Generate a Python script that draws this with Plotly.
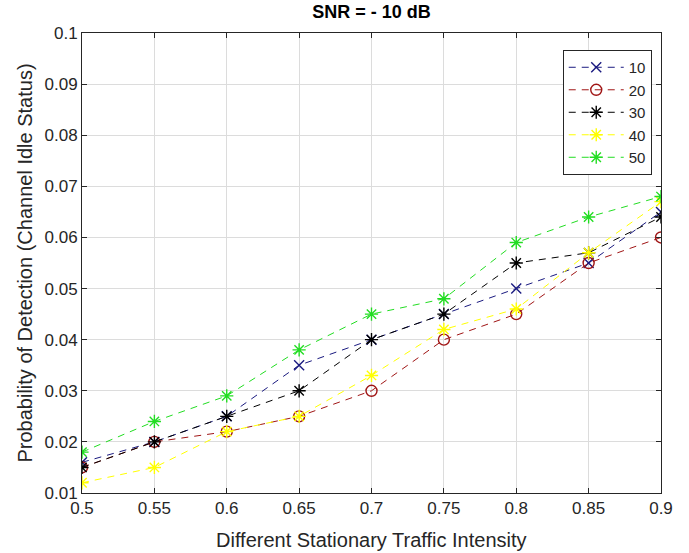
import plotly.graph_objects as go

# Stationary traffic intensity (x axis)
traffic = [0.5, 0.55, 0.6, 0.65, 0.7, 0.75, 0.8, 0.85, 0.9]

# Detection probability for each case
pd_10 = [0.016, 0.020, 0.025, 0.035, 0.040, 0.045, 0.050, 0.055, 0.065]
pd_20 = [0.015, 0.020, 0.022, 0.025, 0.030, 0.040, 0.045, 0.055, 0.060]
pd_30 = [0.015, 0.020, 0.025, 0.030, 0.040, 0.045, 0.055, 0.057, 0.064]
pd_40 = [0.012, 0.015, 0.022, 0.025, 0.033, 0.042, 0.046, 0.057, 0.067]
pd_50 = [0.018, 0.024, 0.029, 0.038, 0.045, 0.048, 0.059, 0.064, 0.068]

series_names = ["10", "20", "30", "40", "50"]

x_ticks = [0.5, 0.55, 0.6, 0.65, 0.7, 0.75, 0.8, 0.85, 0.9]
x_tick_text = ["0.5", "0.55", "0.6", "0.65", "0.7", "0.75", "0.8", "0.85", "0.9"]
y_ticks = [0.01, 0.02, 0.03, 0.04, 0.05, 0.06, 0.07, 0.08, 0.09, 0.1]
y_tick_text = ["0.01", "0.02", "0.03", "0.04", "0.05", "0.06", "0.07", "0.08", "0.09", "0.1"]

FONT = "Liberation Sans, Arial, sans-serif"

styles = [
    ("#1a1a80", "x-thin-open", 10),
    ("#a01515", "circle-open", 11),
    ("#000000", "asterisk-open", 11),
    ("#ffff00", "asterisk-open", 11),
    ("#22dd22", "asterisk-open", 11),
]

fig = go.Figure()
for name, values, (color, symbol, size) in zip(
        series_names, [pd_10, pd_20, pd_30, pd_40, pd_50], styles):
    fig.add_trace(go.Scatter(
        x=traffic, y=values, name=name, mode="lines+markers",
        line=dict(color=color, width=1, dash="7px,6px"),
        marker=dict(symbol=symbol, size=size, color=color,
                    line=dict(color=color, width=1.4)),
    ))

axis_common = dict(
    showline=True, linecolor="#262626", linewidth=1, mirror="ticks",
    ticks="inside", ticklen=5, tickcolor="#262626",
    showgrid=True, gridcolor="#dcdcdc", gridwidth=1, zeroline=False,
    tickfont=dict(family=FONT, size=17, color="#262626"),
)

fig.update_xaxes(
    range=[0.5, 0.9], tickvals=x_ticks, ticktext=x_tick_text,
    automargin=False,
    **axis_common,
)
fig.update_yaxes(
    range=[0.01, 0.1], tickvals=y_ticks, ticktext=y_tick_text,
    title=dict(text="Probability of Detection (Channel Idle Status)",
               font=dict(family=FONT, size=20, color="#262626"),
               standoff=6),
    **axis_common,
)

# x-axis title placed just below the tick labels
fig.add_annotation(
    text="Different Stationary Traffic Intensity",
    xref="paper", yref="paper", x=0.5, y=-0.102,
    xanchor="center", yanchor="middle", showarrow=False,
    font=dict(family=FONT, size=20, color="#262626"),
)

fig.update_layout(
    width=689, height=553,
    margin=dict(l=82, r=28, t=33, b=60),
    paper_bgcolor="white", plot_bgcolor="white",
    title=dict(text="<b>SNR = - 10 dB</b>", x=0.5, xanchor="center",
               xref="paper", y=0.99, yanchor="top",
               font=dict(family=FONT, size=18, color="#000000")),
    legend=dict(x=0.984, y=0.963, xanchor="right", yanchor="top",
                bgcolor="white", bordercolor="#262626", borderwidth=1,
                font=dict(family=FONT, size=15, color="#262626"),
                tracegroupgap=0, itemwidth=55),
    showlegend=True,
)

fig.write_html("out.html")
